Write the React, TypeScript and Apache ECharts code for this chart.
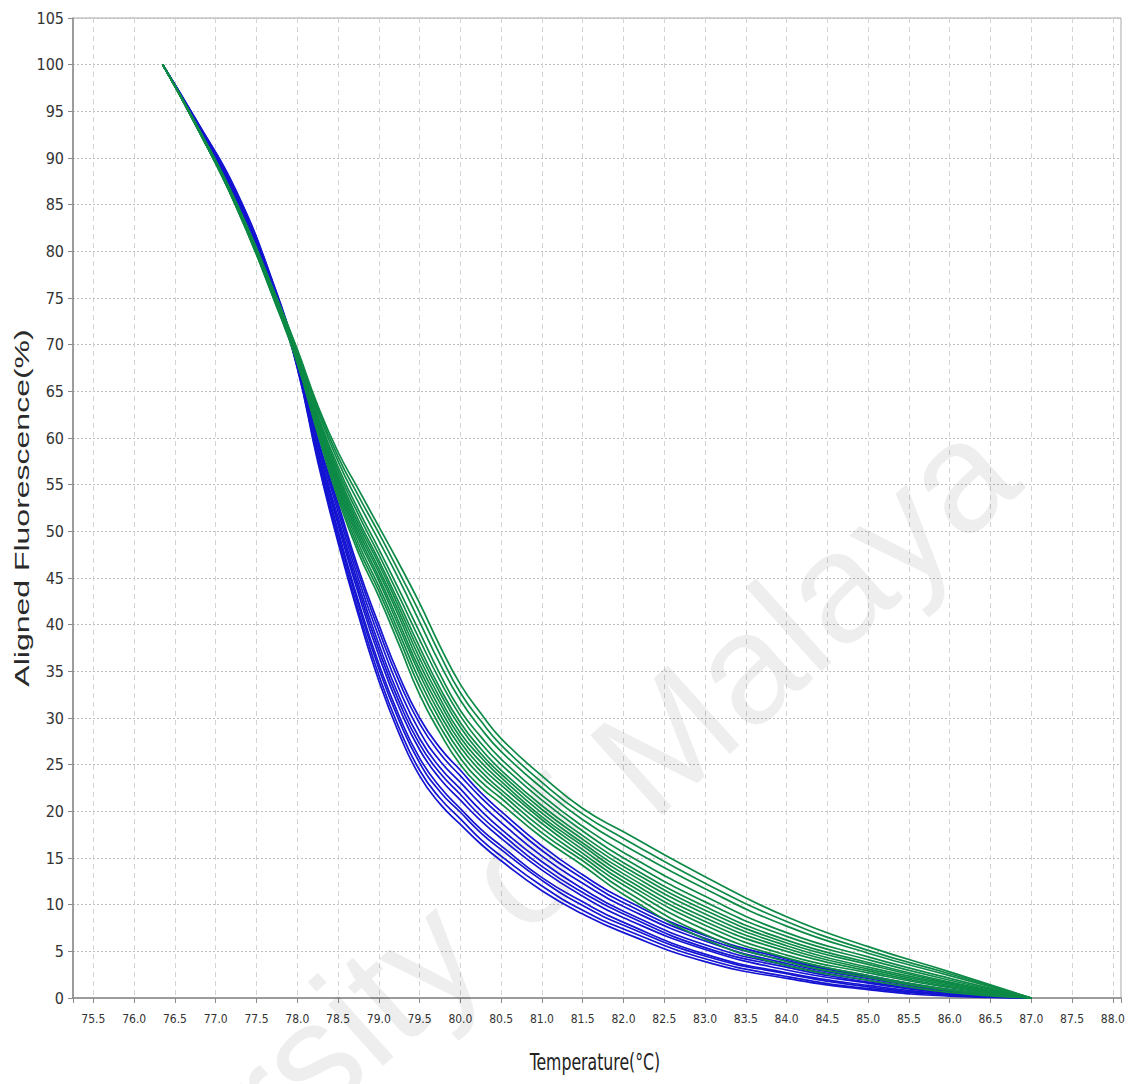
import React, { useEffect, useRef } from 'react';
import * as echarts from 'echarts';

// Temperature sample points (°C)
const temps = [76.35, 76.75, 77.25, 77.75, 78.0, 78.25, 78.5, 78.75, 79.0, 79.25, 79.5, 79.75, 80.0, 80.25, 80.5, 81.0, 81.5, 82.0, 83.0, 84.0, 85.0, 86.0, 87.0];

// Blue group (aligned fluorescence %)
const blue1 = [100, 93.8, 85.5, 74.5, 67.5, 57.5, 48.8, 41.0, 34.0, 28.3, 23.8, 20.8, 18.6, 16.5, 14.7, 11.5, 9.0, 7.0, 3.9, 2.1, 0.9, 0.2, 0];
const blue2 = [100, 93.8, 85.6, 74.6, 67.6, 57.8, 49.2, 41.5, 34.6, 28.9, 24.4, 21.4, 19.2, 17.0, 15.2, 12.0, 9.4, 7.4, 4.2, 2.3, 1.0, 0.3, 0];
const blue3 = [100, 93.9, 85.7, 74.7, 67.7, 58.1, 49.7, 42.1, 35.3, 29.7, 25.2, 22.1, 19.9, 17.7, 15.9, 12.6, 9.9, 7.8, 4.5, 2.6, 1.2, 0.35, 0];
const blue4 = [100, 93.9, 85.8, 74.8, 67.8, 58.3, 50.1, 42.5, 35.8, 30.2, 25.7, 22.6, 20.3, 18.1, 16.3, 12.9, 10.3, 8.1, 4.7, 2.7, 1.35, 0.4, 0];
const blue5 = [100, 94.0, 86.0, 74.9, 67.9, 58.6, 50.7, 43.3, 36.7, 31.1, 26.6, 23.5, 21.2, 19.0, 17.1, 13.7, 10.9, 8.6, 5.2, 3.0, 1.6, 0.5, 0];
const blue6 = [100, 94.0, 86.1, 75.1, 68.1, 58.9, 51.1, 43.8, 37.3, 31.7, 27.2, 24.1, 21.8, 19.5, 17.6, 14.1, 11.3, 9.0, 5.4, 3.3, 1.7, 0.6, 0];
const blue7 = [100, 94.1, 86.2, 75.2, 68.2, 59.1, 51.5, 44.3, 37.9, 32.3, 27.8, 24.7, 22.4, 20.1, 18.1, 14.6, 11.7, 9.3, 5.7, 3.5, 1.9, 0.65, 0];
const blue8 = [100, 94.1, 86.3, 75.3, 68.3, 59.5, 52.1, 44.9, 38.7, 33.1, 28.6, 25.4, 23.1, 20.8, 18.8, 15.2, 12.3, 9.8, 6.1, 3.7, 2.1, 0.75, 0];
const blue9 = [100, 94.2, 86.4, 75.4, 68.4, 59.8, 52.6, 45.5, 39.4, 33.9, 29.4, 26.2, 23.8, 21.5, 19.5, 15.8, 12.8, 10.2, 6.4, 4.0, 2.3, 0.85, 0];
const blue10 = [100, 94.2, 86.5, 75.5, 68.5, 60.0, 53.0, 46.0, 40.0, 34.5, 30.0, 26.8, 24.4, 22.0, 20.0, 16.3, 13.2, 10.6, 6.7, 4.2, 2.4, 0.9, 0];

// Green group (aligned fluorescence %)
const green1 = [100, 93.6, 84.8, 74.0, 68.0, 60.5, 53.5, 47.7, 43.0, 37.8, 32.5, 28.4, 25.0, 22.6, 20.8, 17.2, 14.2, 11.1, 6.3, 3.5, 1.9, 0.6, 0];
const green2 = [100, 93.6, 84.8, 74.1, 68.1, 60.7, 53.9, 48.2, 43.6, 38.5, 33.3, 29.1, 25.7, 23.2, 21.4, 17.7, 14.7, 11.6, 6.8, 3.9, 2.2, 0.8, 0];
const green3 = [100, 93.6, 84.9, 74.2, 68.2, 61.0, 54.3, 48.7, 44.1, 39.1, 34.0, 29.8, 26.3, 23.8, 21.9, 18.2, 15.1, 12.1, 7.3, 4.3, 2.4, 0.9, 0];
const green4 = [100, 93.6, 84.9, 74.2, 68.3, 61.2, 54.6, 49.2, 44.7, 39.7, 34.7, 30.4, 26.9, 24.3, 22.3, 18.7, 15.5, 12.5, 7.8, 4.6, 2.7, 1.1, 0];
const green5 = [100, 93.7, 84.9, 74.3, 68.4, 61.3, 54.9, 49.6, 45.1, 40.2, 35.2, 31.0, 27.4, 24.8, 22.8, 19.1, 15.9, 12.9, 8.2, 5.0, 2.9, 1.2, 0];
const green6 = [100, 93.7, 85.0, 74.3, 68.5, 61.5, 55.2, 50.0, 45.6, 40.8, 35.8, 31.6, 27.9, 25.3, 23.2, 19.4, 16.3, 13.3, 8.6, 5.3, 3.1, 1.35, 0];
const green7 = [100, 93.7, 85.0, 74.4, 68.6, 61.7, 55.5, 50.4, 46.0, 41.3, 36.4, 32.1, 28.4, 25.8, 23.6, 19.8, 16.6, 13.7, 9.0, 5.6, 3.3, 1.5, 0];
const green8 = [100, 93.7, 85.0, 74.5, 68.7, 61.9, 55.8, 50.8, 46.5, 41.8, 37.0, 32.7, 29.0, 26.2, 24.0, 20.2, 17.0, 14.1, 9.4, 5.9, 3.6, 1.6, 0];
const green9 = [100, 93.7, 85.1, 74.5, 68.8, 62.1, 56.1, 51.2, 46.9, 42.3, 37.6, 33.2, 29.5, 26.7, 24.4, 20.6, 17.4, 14.5, 9.8, 6.2, 3.8, 1.7, 0];
const green10 = [100, 93.7, 85.1, 74.6, 68.9, 62.3, 56.5, 51.8, 47.5, 43.0, 38.4, 34.0, 30.2, 27.3, 25.0, 21.2, 17.9, 15.0, 10.3, 6.6, 4.1, 1.9, 0];
const green11 = [100, 93.7, 85.1, 74.7, 69.0, 62.5, 56.9, 52.3, 48.1, 43.7, 39.2, 34.7, 30.8, 28.0, 25.6, 21.7, 18.4, 15.6, 10.9, 7.0, 4.4, 2.1, 0];
const green12 = [100, 93.8, 85.2, 74.8, 69.2, 62.9, 57.5, 53.1, 49.0, 44.8, 40.3, 35.8, 31.9, 28.9, 26.4, 22.5, 19.1, 16.4, 11.7, 7.7, 4.8, 2.4, 0];
const green13 = [100, 93.8, 85.2, 74.9, 69.4, 63.2, 58.0, 53.8, 49.8, 45.6, 41.3, 36.8, 32.7, 29.7, 27.1, 23.1, 19.7, 17.1, 12.3, 8.2, 5.1, 2.6, 0];
const green14 = [100, 93.8, 85.3, 75.0, 69.5, 63.5, 58.5, 54.5, 50.5, 46.5, 42.3, 37.7, 33.6, 30.5, 27.8, 23.8, 20.3, 17.8, 13.0, 8.7, 5.5, 2.8, 0];

const blueCurves = [blue1, blue2, blue3, blue4, blue5, blue6, blue7, blue8, blue9, blue10];
const greenCurves = [green1, green2, green3, green4, green5, green6, green7, green8, green9, green10, green11, green12, green13, green14];

const BLUE = '#1414d2';
const GREEN = '#0d8a46';
const NARROW = '"Liberation Sans Narrow", "DejaVu Sans Condensed", "Liberation Sans", sans-serif';
const SANS = '"Liberation Sans", Arial, "DejaVu Sans", sans-serif';

export default function App() {
  const ref = useRef<HTMLDivElement>(null);
  useEffect(() => {
    const chart = echarts.init(ref.current!, null, { renderer: 'svg' });
    const mk = (vals: number[], color: string, name: string) => ({
      type: 'line',
      name,
      data: temps.map((t, i) => [t, vals[i]]),
      symbol: 'none',
      showSymbol: false,
      smooth: 0.5,
      silent: true,
      z: 2,
      lineStyle: { color, width: 1.7 },
      itemStyle: { color },
    });
    const series = [
      ...blueCurves.map((c, i) => mk(c, BLUE, 'Blue ' + (i + 1))),
      ...greenCurves.map((c, i) => mk(c, GREEN, 'Green ' + (i + 1))),
    ];
    chart.setOption({
      animation: false,
      backgroundColor: '#ffffff',
      grid: {
        left: 73,
        right: 12,
        top: 18,
        bottom: 86,
        show: true,
        borderColor: '#a8a8a8',
        borderWidth: 1,
      },
      xAxis: {
        type: 'value',
        min: 75.25,
        max: 88.1,
        minInterval: 0.5,
        maxInterval: 0.5,
        axisLine: { show: true, lineStyle: { color: '#8a8a8a', width: 1.5 } },
        axisTick: { show: true, length: 5, lineStyle: { color: '#8a8a8a' } },
        axisLabel: {
          margin: 15,
          fontFamily: NARROW,
          fontSize: 12,
          color: '#333',
          formatter: (v: number) => (Math.abs(v * 2 - Math.round(v * 2)) < 1e-6 ? v.toFixed(1) : ''),
        },
        splitLine: { show: true, lineStyle: { color: '#d4d4d4', type: [5, 4], width: 1 } },
      },
      yAxis: {
        type: 'value',
        min: 0,
        max: 105,
        interval: 5,
        axisLine: { show: true, lineStyle: { color: '#8a8a8a', width: 1.5 } },
        axisTick: { show: true, length: 5, lineStyle: { color: '#8a8a8a' } },
        axisLabel: { margin: 9, fontFamily: NARROW, fontSize: 16, color: '#333' },
        splitLine: { show: true, lineStyle: { color: '#bcbcbc', type: [2, 2], width: 1 } },
      },
      graphic: [
        {
          type: 'text',
          x: 990,
          y: 447,
          rotation: (42 * Math.PI) / 180,
          z: 1,
          silent: true,
          style: {
            text: 'University of Malaya',
            font: '156px ' + SANS,
            fill: 'rgba(0,0,0,0.065)',
            align: 'right',
            verticalAlign: 'middle',
          },
        },
        {
          type: 'text',
          x: 22,
          y: 508,
          rotation: Math.PI / 2,
          scaleX: 1.6,
          silent: true,
          style: {
            text: 'Aligned Fluorescence(%)',
            font: '20px ' + SANS,
            fill: '#2a2a2a',
            align: 'center',
            verticalAlign: 'middle',
          },
        },
        {
          type: 'text',
          x: 595,
          y: 1062,
          scaleY: 1.35,
          silent: true,
          style: {
            text: 'Temperature(°C)',
            font: '17.5px ' + NARROW,
            fill: '#222',
            align: 'center',
            verticalAlign: 'middle',
          },
        },
      ],
      series,
    });
    return () => chart.dispose();
  }, []);
  return (
    <div
      ref={ref}
      style={{ position: 'fixed', left: 0, top: 0, width: 1133, height: 1084, background: '#fff' }}
    />
  );
}
